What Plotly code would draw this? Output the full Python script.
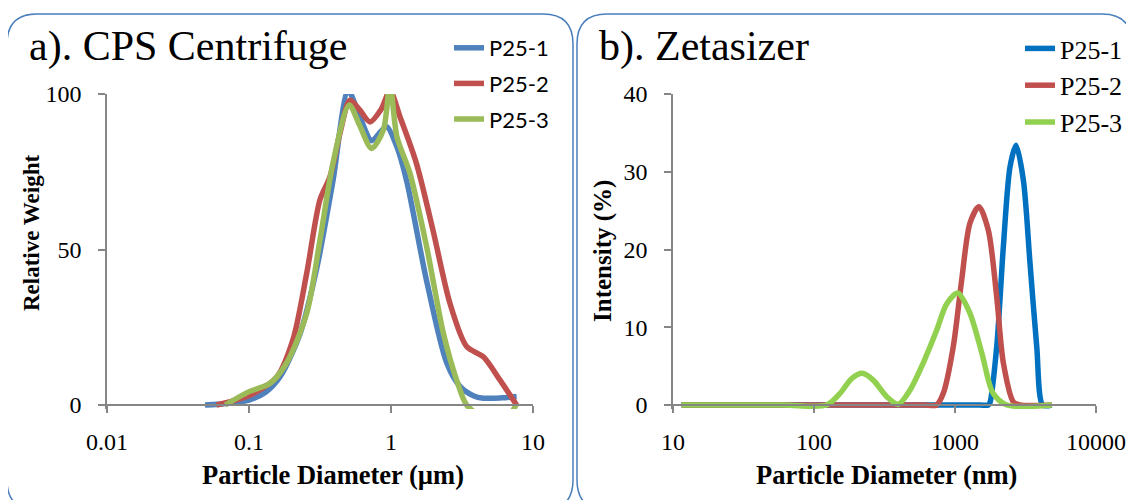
import plotly.graph_objects as go

# ---------------- data ----------------
series_names = ["P25-1", "P25-2", "P25-3"]

# a) CPS Centrifuge  (diameter in µm, relative weight)
cps_x_p1 = [0.049, 0.07, 0.1, 0.13, 0.165, 0.229, 0.30, 0.39, 0.50, 0.60, 0.73, 0.85, 0.933,
            1.1, 1.29, 1.78, 2.47, 3.06, 3.8, 4.47, 6.0, 7.67]
cps_y_p1 = [0, 0.5, 1.6, 4, 9, 23, 44, 72, 101, 93, 85, 88, 89.5,
            83, 72, 40, 13.5, 6, 3, 2.2, 2.3, 2.7]

cps_x_p2 = [0.059, 0.08, 0.102, 0.157, 0.204, 0.255, 0.316, 0.372, 0.437, 0.514, 0.6, 0.711,
            0.85, 0.984, 1.156, 1.51, 1.98, 2.6, 3.41, 4.47, 5.86, 7.67]
cps_y_p2 = [0, 1.5, 3.2, 9, 21, 42.4, 66, 73.4, 87.4, 98, 95, 91,
            95, 101, 92.7, 77.7, 56, 32.7, 18.8, 15.5, 8, 0]

cps_x_p3 = [0.068, 0.1, 0.141, 0.184, 0.255, 0.316, 0.39, 0.508, 0.6, 0.73, 0.883, 0.984,
            1.1, 1.36, 1.78, 2.34, 2.9, 3.41, 4.5, 6.5, 7.6]
cps_y_p3 = [0, 4.3, 7, 13.5, 29.5, 53, 77.7, 96.5, 90, 82.5, 88.4, 103,
            86.3, 74.5, 51, 23, 8, 0, -4, -4, 0]

# b) Zetasizer (diameter in nm, intensity %)
zeta_x_p1 = [11.5, 100, 741, 1500, 1722, 1770, 1976, 2203, 2455, 2710, 3055, 3405, 3800, 4190, 4850]
zeta_y_p1 = [0, 0, 0, 0, 0, 0.3, 7.5, 20.4, 30.6, 33.4, 28.9, 18.2, 7.5, 0, 0]

zeta_x_p2 = [11.5, 100, 600, 741, 826, 972, 1114, 1277, 1479, 1722, 1976, 2203, 2594, 2884, 4850]
zeta_y_p2 = [0, 0, 0, 0, 1.5, 7.5, 16, 23.4, 25.5, 22.5, 13.9, 5.4, 0.4, 0, 0]

zeta_x_p3 = [11.5, 60, 123, 153, 185, 220, 263, 328, 396, 479, 595, 741, 872, 1045, 1277,
             1549, 1863, 2330, 4850]
zeta_y_p3 = [0, 0, 0, 1.5, 3.4, 4.07, 3.2, 1.07, 0.1, 1.9, 5.4, 9.6, 13, 14.4, 11.8,
             6.7, 1.5, 0, 0]

cps_ticks = [0.01, 0.1, 1, 10]
cps_ticktext = ["0.01", "0.1", "1", "10"]
zeta_ticks = [10, 100, 1000, 10000]
zeta_ticktext = ["10", "100", "1000", "10000"]
cps_yticks = [0, 50, 100]
zeta_yticks = [0, 10, 20, 30, 40]

cps_colors = ["#4F81BD", "#C0504D", "#9BBB59"]
zeta_colors = ["#0070C0", "#C0504D", "#92D050"]

# ---------------- figure ----------------
# the page body has an 8px margin, so the figure is 8px smaller and all
# page-pixel positions are shifted by that margin
OFF = 8
W, H = 1134 - OFF, 500 - OFF
def PX(x): return (x - OFF) / W
def PY(y): return 1 - (y - OFF) / H

SERIF = "Liberation Serif"
AXC = "#868686"
LW = 5.5

fig = go.Figure()

cps_sets = [(cps_x_p1, cps_y_p1), (cps_x_p2, cps_y_p2), (cps_x_p3, cps_y_p3)]
for i, (xs, ys) in enumerate(cps_sets):
    fig.add_trace(go.Scatter(x=xs, y=ys, mode="lines", name=series_names[i],
                             line=dict(color=cps_colors[i], width=LW, shape="spline", smoothing=0.8),
                             xaxis="x", yaxis="y", legend="legend", legendgroup="a%d" % i))

zeta_sets = [(zeta_x_p1, zeta_y_p1), (zeta_x_p2, zeta_y_p2), (zeta_x_p3, zeta_y_p3)]
for i, (xs, ys) in enumerate(zeta_sets):
    fig.add_trace(go.Scatter(x=xs, y=ys, mode="lines", name=series_names[i],
                             line=dict(color=zeta_colors[i], width=LW, shape="spline", smoothing=0.8),
                             xaxis="x2", yaxis="y2", legend="legend2", legendgroup="b%d" % i))

axis_common = dict(showline=True, linecolor=AXC, linewidth=1.5, ticks="outside", ticklen=7,
                   tickcolor=AXC, tickwidth=1.5, showgrid=False, zeroline=False,
                   tickfont=dict(family=SERIF, size=24, color="black"), automargin=False)

pad_px = 4
fig.update_layout(
    width=W, height=H, autosize=False,
    margin=dict(l=0, r=0, t=0, b=0),
    paper_bgcolor="white", plot_bgcolor="white",
    xaxis=dict(type="log", range=[-2, 1], domain=[PX(107), PX(533)], anchor="free",
               position=PY(405), tickvals=cps_ticks, ticktext=cps_ticktext,
               ticklabelstandoff=8, **axis_common),
    yaxis=dict(range=[-100 * pad_px / 311, 100], domain=[PY(405 + pad_px), PY(94)], anchor="x",
               tickvals=cps_yticks, ticklabelstandoff=12, **axis_common),
    xaxis2=dict(type="log", range=[1, 4], domain=[PX(673), PX(1096)], anchor="free",
                position=PY(405), tickvals=zeta_ticks, ticktext=zeta_ticktext,
                ticklabelstandoff=8, **axis_common),
    yaxis2=dict(range=[-40 * pad_px / 311, 40], domain=[PY(405 + pad_px), PY(94)], anchor="x2",
                tickvals=zeta_yticks, ticklabelstandoff=12, **axis_common),
    legend=dict(x=PX(449), y=PY(27), xanchor="left", yanchor="top",
                font=dict(family="Lato", size=22, color="black"),
                bgcolor="rgba(0,0,0,0)", tracegroupgap=4),
    legend2=dict(x=PX(1020), y=PY(25), xanchor="left", yanchor="top",
                 font=dict(family=SERIF, size=26, color="black"),
                 bgcolor="rgba(0,0,0,0)", tracegroupgap=0),
    showlegend=True,
)

# panel titles and axis titles
ann = [
    dict(text="a). CPS Centrifuge", x=PX(27), y=PY(47), xanchor="left", yanchor="middle",
         font=dict(family=SERIF, size=42, color="black")),
    dict(text="b). Zetasizer", x=PX(597), y=PY(47), xanchor="left", yanchor="middle",
         font=dict(family=SERIF, size=42, color="black")),
    dict(text="<b>Particle Diameter (µm)</b>", x=PX(333), y=PY(475), xanchor="center", yanchor="middle",
         font=dict(family=SERIF, size=26.5, color="black")),
    dict(text="<b>Particle Diameter (nm)</b>", x=PX(886), y=PY(475), xanchor="center", yanchor="middle",
         font=dict(family=SERIF, size=26.5, color="black")),
    dict(text="<b>Relative Weight</b>", x=PX(32), y=PY(233), xanchor="center", yanchor="middle",
         textangle=-90, font=dict(family=SERIF, size=23, color="black")),
    dict(text="<b>Intensity (%)</b>", x=PX(603), y=PY(251), xanchor="center", yanchor="middle",
         textangle=-90, font=dict(family=SERIF, size=25, color="black")),
]
for a in ann:
    fig.add_annotation(xref="paper", yref="paper", showarrow=False, **a)

# rounded panel borders
def rrect(x0, y0, x1, y1, r):
    pts = [("M", x0 + r, y0), ("L", x1 - r, y0), ("Q", x1, y0, x1, y0 + r),
           ("L", x1, y1 - r), ("Q", x1, y1, x1 - r, y1), ("L", x0 + r, y1),
           ("Q", x0, y1, x0, y1 - r), ("L", x0, y0 + r), ("Q", x0, y0, x0 + r, y0)]
    s = ""
    for p in pts:
        cmd = p[0]
        coords = p[1:]
        pairs = []
        for k in range(0, len(coords), 2):
            pairs.append("%.6f,%.6f" % (PX(coords[k]), PY(coords[k + 1])))
        s += cmd + " ".join(pairs) + " "
    return s + "Z"

for box in [(7, 14, 573, 510), (577, 14, 1132, 510)]:
    fig.add_shape(type="path", path=rrect(*box, 30), xref="paper", yref="paper",
                  line=dict(color="#4A7EBB", width=1.5), fillcolor="rgba(0,0,0,0)", layer="below")

fig.write_html("out.html")
